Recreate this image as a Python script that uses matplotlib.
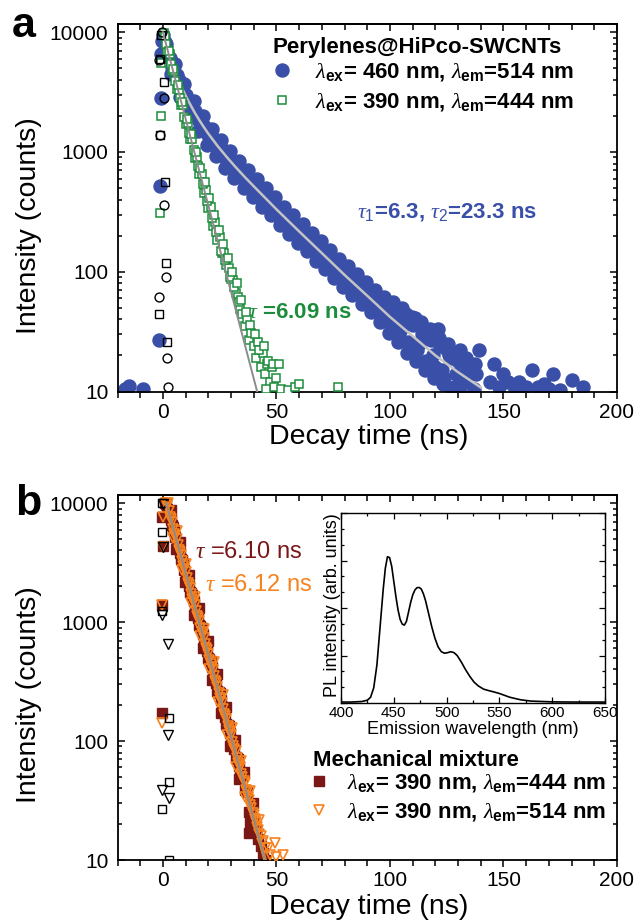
"""Fluorescence decay of perylenes in HiPco SWCNTs (a) and a mechanical mixture (b)."""

import matplotlib

matplotlib.use("Agg")
import matplotlib.pyplot as plt
from matplotlib.ticker import (AutoMinorLocator, FuncFormatter, LogLocator,
                               MultipleLocator, NullFormatter)

plt.rcParams.update({
    "font.family": ["Liberation Sans", "DejaVu Sans"],
    "mathtext.fontset": "custom",
    "mathtext.it": "Liberation Serif:italic",
    "mathtext.rm": "Liberation Sans",
    "mathtext.bf": "Liberation Sans:bold",
})

BLUE = "#3A50A8"
GREEN = "#1D8C3C"
DARK_RED = "#7A1818"
ORANGE = "#F7821E"

# ---- panel a: Perylenes@HiPco-SWCNTs, 460 nm excitation (filled circles)
blue_t = [-16.5, -15.1, -8.9, -1.6, -1.2, -1.0, -1.0, -0.5,
          0, 1, 2, 4, 6, 8, 10, 12, 14, 16, 18, 20, 22, 24, 26, 28, 30,
          32, 34, 36, 38, 40, 42, 44, 46, 48, 50, 52, 54, 56, 58, 60,
          62, 64, 66, 68, 70, 72, 74, 76, 78, 80, 82, 84, 86, 88, 90,
          92, 94, 96, 98, 100, 102, 104, 106, 108, 110, 112, 114, 116,
          118, 120, 122, 124, 126, 128, 130, 132, 134, 136, 138, 140,
          3, 5, 7, 9, 11, 13, 15, 17, 19, 21, 23, 25, 27, 29, 31, 33, 35,
          37, 39, 41, 43, 45, 47, 49, 51, 53, 55, 57, 59, 61, 63, 65, 67,
          69, 71, 73, 75, 77, 79, 81, 83, 85, 87, 89, 91, 93, 95, 97, 99,
          101, 103, 105, 107, 109, 111, 113, 115, 117, 119, 121, 123, 125,
          127, 129, 131, 133, 135, 137, 139,
          144, 146, 148, 150, 152, 155, 157, 160, 162.5, 165, 168, 170,
          172, 175, 180, 185]
blue_i = [10.5, 11.1, 10.4, 27, 515, 2800, 6600, 8500,
          9500, 8200, 6700, 5100, 4400, 3500, 3000, 2450, 2200, 1800, 1650,
          1380, 1290, 1080, 1040, 880, 840,
          720, 700, 600, 580, 500, 480, 410, 400, 345, 340, 290, 285, 245,
          240, 205, 210, 172, 175, 145, 150, 122, 128, 104, 108, 88, 95,
          72, 82, 62, 70, 52, 60, 44, 52, 38, 48, 30, 40, 26, 36, 22, 30,
          18, 27, 16, 24, 13, 20, 11, 18, 12, 16, 9, 14, 8,
          6100, 4500, 4000, 3100, 2650, 2350, 1950, 1700, 1500, 1450, 1150,
          1150, 950, 900, 770, 650, 640, 530, 540, 470, 430, 420, 360, 370,
          320, 300, 260, 265, 220, 225, 185, 190, 160, 160, 135, 140, 115,
          112, 99, 100, 84, 80, 74, 70, 58, 62, 48, 56, 42, 46, 40, 33, 44,
          22, 41, 25, 34, 28, 20, 33, 15, 22, 19, 14, 22, 12, 15, 10.5, 22,
          12, 17, 11, 14, 12, 10.5, 12, 10.8, 15, 11, 11.5, 10.5, 14, 10.2,
          12.5, 10.8]
# counts scattered above / below the main band
blue_hi_t = [1.5, 5.5, 9.5, 13.5, 17.5, 21.5, 25.5, 29.5, 33.5, 37.5, 41.5,
             45.5, 49.5, 53.5, 57.5, 61.5, 65.5, 69.5, 73.5, 77.5, 81.5, 85.5,
             89.5, 93.5, 97.5, 101.5, 105.5, 109.5, 113.5, 117.5, 121.5,
             125.5, 129.5, 133.5, 137.5]
blue_hi_i = [8000, 5400, 3700, 2650, 2000, 1550, 1250, 1010, 840, 700, 590,
             500, 420, 350, 295, 250, 212, 180, 152, 128, 112, 95, 82, 70,
             62, 56, 50, 42, 38, 33, 28, 25, 21, 19, 17]
blue_lo_t = [3.5, 7.5, 11.5, 15.5, 19.5, 23.5, 27.5, 31.5, 35.5, 39.5, 43.5,
             47.5, 51.5, 55.5, 59.5, 63.5, 67.5, 71.5, 75.5, 79.5, 83.5, 87.5,
             91.5, 95.5, 99.5, 103.5, 107.5, 111.5, 115.5, 119.5, 123.5,
             127.5, 131.5, 135.5]
blue_lo_i = [4500, 2900, 2050, 1500, 1150, 920, 740, 610, 500, 420, 350, 295,
             245, 205, 175, 148, 124, 105, 89, 75, 64, 54, 46, 38, 31, 26,
             21, 18, 15, 13, 11.5, 10.5, 9.5, 8]

# bi-exponential fit through the 460 nm data (tau1 = 6.3 ns, tau2 = 23.3 ns)
blue_fit_t = [0, 2, 4, 6, 8, 10, 12, 14, 16, 18, 20, 24, 28, 32, 36, 40,
              50, 60, 70, 80, 90, 100, 110, 120, 130, 140]
blue_fit_i = [9000, 6578, 5277, 4291, 3538, 2949, 2498, 2132, 1846, 1614,
              1421, 1126, 912, 748, 619, 517, 332, 217, 143, 94, 63, 42, 29,
              20, 14.5, 10.8]

# 390 nm excitation, 444 nm emission (open squares)
green_t = [-1.2, -0.9, -0.8, 0.5, 1, 2, 3, 4, 5, 6, 7, 8, 9, 10, 11, 12,
           13, 14, 15, 16, 17, 18, 19, 20, 21, 22, 23, 24, 25, 26, 27, 28,
           29, 30, 31, 32, 33, 34, 35, 36, 37, 38, 39, 40, 41, 42, 43, 44,
           45, 46, 47, 48, 49, 50, 52, 55, 58, 60, 77,
           1.5, 2.5, 3.5, 4.5, 5.5, 6.5, 7.5, 8.5, 9.5, 10.5, 11.5, 12.5,
           13.5, 14.5, 15.5, 16.5, 17.5, 18.5, 19.5, 20.5, 21.5, 22.5, 23.5,
           24.5, 25.5, 26.5, 27.5, 28.5, 29.5, 30.5, 31.5, 32.5, 33.5, 34.5,
           36.5, 38.5, 40.5, 42.5, 44.5, 46.5, 48.5, 51, 45.5]
green_i = [310, 2000, 5500, 9800, 9300, 6800, 6550, 4770, 4780, 3380, 3300,
           2480, 2450, 1700, 1730, 1290, 1280, 890, 900, 660, 660, 450, 485,
           340, 347, 243, 260, 183, 194, 144, 144, 113, 108, 87, 85, 67, 61,
           49, 44, 35, 40, 27, 31, 24, 19, 26, 16, 21, 14, 17, 12, 16, 11,
           13, 10.5, 10.2, 10.8, 11.5, 11,
           8000, 7000, 5400, 4900, 3900, 3600, 2800, 2600, 1950, 1900, 1450,
           1420, 1030, 1000, 760, 740, 540, 560, 390, 410, 280, 300, 215,
           225, 150, 170, 125, 130, 90, 100, 75, 80, 56, 58, 46, 36, 30, 22,
           24, 18, 17, 17, 10.5]

green_fit_t = [0, 41.5]
green_fit_i = [10000, 10]

# instrument response (black open markers) for panel a
irf_a_sq_t = [-0.8, -1.2, 0.6, -1.2, 1.0, 1.3, -1.6, 2.0]
irf_a_sq_i = [9500, 6000, 3800, 1380, 565, 118, 44, 26]
irf_a_ci_t = [-0.3, -1.6, 0.3, -1.2, 0.6, 1.3, -1.6, 2.0, 2.3]
irf_a_ci_i = [10000, 5900, 2800, 1380, 360, 91, 61, 19, 11]

# ---- panel b: mechanical mixture
red_t = [-0.2, 0.0, -0.3, -0.4,
         1, 2, 3, 4, 5, 6, 7, 8, 9, 10, 11, 12, 13, 14, 15, 16, 17, 18,
         19, 20, 21, 22, 23, 24, 25, 26, 27, 28, 29, 30, 31, 32, 33, 34,
         35, 36, 37, 37.9, 38.2, 38.9, 40.2, 41, 42, 43, 44, 45,
         1.5, 2.5, 3.5, 4.5, 5.5, 6.5, 7.5, 8.5, 9.5, 10.5, 11.5, 12.5,
         13.5, 14.5, 15.5, 16.5, 17.5, 18.5, 19.5, 20.5, 21.5, 22.5, 23.5,
         24.5, 25.5, 26.5, 27.5, 28.5, 29.5, 30.5, 31.5, 32.5, 33.5, 34.5,
         3.7, 7.7, 11.7, 15.7, 19.7, 23.7, 27.7, 31.7, 35.7, 39.7,
         5.7, 9.7, 13.7, 17.7, 21.7, 25.7, 29.7, 33.7, 37.7]
red_i = [7600, 4400, 1380, 172,
         10000, 9000, 8100, 6500, 5900, 4700, 4300, 3400, 3150, 2500, 2300,
         1800, 1680, 1310, 1220, 950, 890, 690, 650, 500, 475, 365, 345,
         265, 252, 192, 182, 140, 133, 102, 97, 74, 70, 54, 51, 39, 37,
         16.8, 20.5, 24.6, 20.5, 18, 15, 13, 11.5, 10,
         9800, 8400, 7200, 6300, 5200, 4550, 3800, 3300, 2750, 2400, 2000,
         1750, 1500, 1280, 1080, 920, 790, 670, 575, 490, 420, 360, 305,
         260, 220, 190, 160, 137, 117, 100, 85, 72, 62, 53,
         8800, 4670, 2475, 1310, 695, 368, 195, 103, 55, 30,
         4100, 2175, 1150, 610, 323, 171, 91, 48, 25.5]

orange_t = [0.2, -0.1, -0.3, -0.4,
            1.5, 2, 3, 4, 5, 6, 7, 8, 9, 10, 11, 12, 13, 14, 15, 16, 17, 18,
            19, 20, 21, 22, 23, 24, 25, 26, 27, 28, 29, 30, 31, 32, 33, 34,
            35, 36, 37, 38, 39, 40, 41, 42, 43, 44, 45, 46.5, 47, 49.3, 50,
            52.8,
            2.5, 3.5, 4.5, 5.5, 6.5, 7.5, 8.5, 9.5, 10.5, 11.5, 12.5, 13.5,
            14.5, 15.5, 16.5, 17.5, 18.5, 19.5, 20.5, 21.5, 22.5, 23.5, 24.5,
            25.5, 26.5, 27.5, 28.5, 29.5, 30.5, 31.5, 32.5, 33.5, 34.5, 35.5,
            36.5, 37.5, 38.5, 39.5, 40.5, 41.5, 42.5, 43.5,
            2.3, 6.3, 10.3, 14.3, 18.3, 22.3, 26.3, 30.3, 34.3, 38.3, 42.3,
            4.3, 8.3, 12.3, 16.3, 20.3, 24.3, 28.3, 32.3, 36.3]
orange_i = [7600, 4300, 1380, 142,
            10000, 9400, 7600, 6900, 5500, 5000, 4000, 3650, 2950, 2650, 2150,
            1930, 1560, 1400, 1130, 1020, 830, 740, 600, 540, 440, 395, 320,
            285, 232, 208, 170, 152, 124, 112, 90, 82, 66, 60, 50, 44, 37,
            32, 27.5, 24, 21, 18, 16, 14.5, 12.5, 12.5, 11, 14, 10.5, 11,
            8600, 7300, 6100, 5300, 4450, 3900, 3250, 2800, 2350, 2050, 1720,
            1500, 1250, 1080, 900, 790, 660, 580, 480, 420, 350, 305, 255,
            225, 185, 162, 135, 118, 99, 86, 72, 63, 53, 46, 39, 34, 29, 25,
            22, 19, 16.5, 14,
            10000, 5840, 3090, 1640, 868, 460, 244, 129, 68, 38, 21.5,
            5130, 2720, 1440, 762, 404, 214, 113, 60, 34]

mix_fit_t = [1.5, 45]
mix_fit_i = [10000, 10]

irf_b_sq_t = [-0.3, -0.2, -0.5, 2.5, 2.7, -0.5, 2.7]
irf_b_sq_i = [10000, 5760, 1230, 156, 45, 27, 10]
irf_b_tri_t = [0.1, -0.1, -0.5, 2.2, 2.2, -0.5, 2.7]
irf_b_tri_i = [9800, 4300, 1150, 660, 112, 39, 33]

# ---- inset: PL emission spectrum
wavelength = [400, 410, 420, 425, 428, 431, 434, 437, 440, 442, 444, 446,
              448, 450, 452, 454, 456, 458, 460, 462, 464, 466, 468, 470,
              472, 474, 476, 478, 480, 483, 486, 489, 492, 495, 498, 501,
              504, 507, 510, 514, 518, 522, 526, 530, 535, 540, 545, 550,
              555, 560, 570, 580, 600, 620, 650]
pl_intensity = [0.005, 0.005, 0.008, 0.015, 0.03, 0.08, 0.2, 0.4, 0.6,
                0.71, 0.77, 0.765, 0.72, 0.64, 0.56, 0.49, 0.44, 0.415,
                0.41, 0.43, 0.48, 0.53, 0.57, 0.595, 0.607, 0.608, 0.6,
                0.575, 0.54, 0.47, 0.4, 0.34, 0.295, 0.27, 0.262, 0.265,
                0.27, 0.265, 0.25, 0.215, 0.175, 0.14, 0.11, 0.09, 0.073,
                0.065, 0.058, 0.05, 0.04, 0.03, 0.017, 0.01, 0.006, 0.005,
                0.005]

W, H = 640, 924


def box(left, top, right, bottom):
    return [left / W, 1 - bottom / H, (right - left) / W, (bottom - top) / H]


def style_decay_axis(ax):
    ax.set_yscale("log")
    ax.set_xlim(-20, 200)
    ax.set_ylim(10, 11700)
    ax.xaxis.set_major_locator(MultipleLocator(50))
    ax.xaxis.set_minor_locator(MultipleLocator(10))
    ax.yaxis.set_major_locator(LogLocator(base=10))
    ax.yaxis.set_minor_locator(LogLocator(base=10, subs=range(2, 10)))
    ax.yaxis.set_major_formatter(FuncFormatter(lambda v, p: f"{v:g}"))
    ax.yaxis.set_minor_formatter(NullFormatter())
    ax.tick_params(axis="y", which="both", direction="in", right=True,
                   labelsize=15, pad=6.5, width=1.1)
    ax.tick_params(axis="y", which="major", length=5)
    ax.tick_params(axis="y", which="minor", length=3)
    ax.tick_params(axis="x", which="both", direction="out", labelsize=15,
                   pad=3, width=1.1)
    ax.tick_params(axis="x", which="major", length=5)
    ax.tick_params(axis="x", which="minor", length=4)
    top = ax.secondary_xaxis("top")
    top.xaxis.set_major_locator(MultipleLocator(50))
    top.xaxis.set_minor_locator(MultipleLocator(10))
    top.tick_params(which="both", direction="in", labeltop=False, width=1.1)
    top.tick_params(which="major", length=5)
    top.tick_params(which="minor", length=4)
    for spine in list(ax.spines.values()) + list(top.spines.values()):
        spine.set_linewidth(1.3)
    ax.set_xlabel("Decay time (ns)", fontsize=20.5)
    ax.set_ylabel("Intensity (counts)", fontsize=20.5)
    ax.xaxis.label.set_verticalalignment("center")
    ax.yaxis.label.set_verticalalignment("center")


def legend_block(ax, handles, title, left, title_y, first_row_top, spacing):
    fig.text(left / W, 1 - title_y / H, title, fontsize=16, fontweight="bold",
             ha="left", va="center")
    ax.legend(handles=handles, loc="upper left",
              bbox_to_anchor=(left / W, 1 - first_row_top / H),
              bbox_transform=fig.transFigure, frameon=False,
              prop={"weight": "bold", "size": 16}, borderpad=0,
              borderaxespad=0, handlelength=0.8 if left < 300 else 0.5,
              handletextpad=1.1 if left < 300 else 1.05, labelspacing=spacing)


fig = plt.figure(figsize=(W / 100, H / 100), dpi=100)

# ---------------- panel a
ax_a = fig.add_axes(box(117.5, 24, 617, 391.5))
blue_style = dict(marker="o", ms=9.4, color=BLUE, mec=BLUE, ls="none", zorder=2)
(blue_pts,) = ax_a.plot(blue_t, blue_i, **blue_style,
                        label=r"$\lambda_{\mathbf{ex}}$= 460 nm, $\lambda_{\mathbf{em}}$=514 nm")
ax_a.plot(blue_hi_t, blue_hi_i, **blue_style)
ax_a.plot(blue_lo_t, blue_lo_i, **blue_style)
ax_a.plot(blue_fit_t, blue_fit_i, color="#C4C4C4", lw=1.8, zorder=3)
(green_pts,) = ax_a.plot(green_t, green_i, "s", ms=6.0, mfc="white", mec=GREEN,
                         mew=1.1, ls="none", zorder=4,
                         label=r"$\lambda_{\mathbf{ex}}$= 390 nm, $\lambda_{\mathbf{em}}$=444 nm")
ax_a.plot(green_fit_t, green_fit_i, color="#8C8C8C", lw=1.4, zorder=5)
ax_a.plot(irf_a_sq_t, irf_a_sq_i, "s", ms=5.8, mfc="none", mec="black",
          mew=1.0, ls="none", zorder=4)
ax_a.plot(irf_a_ci_t, irf_a_ci_i, "o", ms=6.4, mfc="none", mec="black",
          mew=1.0, ls="none", zorder=4)
style_decay_axis(ax_a)
ax_a.xaxis.set_label_coords(0.5035, -0.124)
ax_a.yaxis.set_label_coords(-0.178, 0.45)

ax_a.text(85.5, 313, r"$\tau_1$=6.3, $\tau_2$=23.3 ns", color=BLUE,
          fontsize=16, fontweight="bold", ha="left", va="center")
ax_a.text(37.4, 45.7, r"$\tau$ =6.09 ns", color=GREEN, fontsize=16,
          fontweight="bold", ha="left", va="center")

legend_block(ax_a, [blue_pts, green_pts], "Perylenes@HiPco-SWCNTs",
             273, 47, 61, 0.36)

# ---------------- panel b
ax_b = fig.add_axes(box(117.5, 495, 617, 860))
(red_pts,) = ax_b.plot(red_t, red_i, "s", ms=7.0, color=DARK_RED, mec=DARK_RED,
                       ls="none", zorder=2,
                       label=r"$\lambda_{\mathbf{ex}}$= 390 nm, $\lambda_{\mathbf{em}}$=444 nm")
(orange_pts,) = ax_b.plot(orange_t, orange_i, "v", ms=7.8, mfc="none", mec=ORANGE,
                          mew=1.2, ls="none", zorder=3,
                          label=r"$\lambda_{\mathbf{ex}}$= 390 nm, $\lambda_{\mathbf{em}}$=514 nm")
ax_b.plot(mix_fit_t, mix_fit_i, color=ORANGE, lw=2.6, zorder=4)
ax_b.plot(mix_fit_t, mix_fit_i, color="#8C8C8C", lw=1.5, zorder=5)
ax_b.plot(irf_b_sq_t, irf_b_sq_i, "s", ms=5.8, mfc="none", mec="black",
          mew=1.0, ls="none", zorder=3)
ax_b.plot(irf_b_tri_t, irf_b_tri_i, "v", ms=6.8, mfc="none", mec="black",
          mew=1.0, ls="none", zorder=3)
style_decay_axis(ax_b)
ax_b.xaxis.set_label_coords(0.5035, -0.129)
ax_b.yaxis.set_label_coords(-0.178, 0.452)

ax_b.text(14.0, 3900, r"$\tau$ =6.10 ns", color=DARK_RED, fontsize=17,
          ha="left", va="center")
ax_b.text(18.4, 2040, r"$\tau$ =6.12 ns", color=ORANGE, fontsize=17,
          ha="left", va="center")

legend_block(ax_b, [red_pts, orange_pts], "Mechanical mixture",
             313, 760, 772, 0.31)

# ---------------- inset spectrum
ax_in = fig.add_axes(box(341, 513, 605, 703))
ax_in.plot(wavelength, pl_intensity, color="black", lw=1.2)
ax_in.set_xlim(400, 650)
ax_in.set_ylim(0, 1)
ax_in.xaxis.set_major_locator(MultipleLocator(50))
ax_in.xaxis.set_minor_locator(AutoMinorLocator(2))
ax_in.yaxis.set_major_locator(MultipleLocator(0.25))
ax_in.yaxis.set_minor_locator(AutoMinorLocator(3))
ax_in.tick_params(which="both", direction="in", top=True, right=True,
                  labelleft=False, labelsize=11, pad=2, width=0.9)
ax_in.tick_params(which="major", length=4)
ax_in.tick_params(which="minor", length=2.5)
for spine in ax_in.spines.values():
    spine.set_linewidth(1.0)
ax_in.set_xlabel("Emission wavelength (nm)", fontsize=13)
ax_in.set_ylabel("PL intensity (arb. units)", fontsize=13)
ax_in.xaxis.label.set_verticalalignment("center")
ax_in.yaxis.label.set_verticalalignment("center")
ax_in.xaxis.set_label_coords(0.498, -0.142)
ax_in.yaxis.set_label_coords(-0.034, 0.516)

# panel letters
fig.text(12 / W, 1 - 37 / H, "a", fontsize=31, fontweight="bold", va="baseline")
fig.text(15 / W, 1 - 515 / H, "b", fontsize=31, fontweight="bold", va="baseline")

fig.savefig("out.png", dpi=100)
